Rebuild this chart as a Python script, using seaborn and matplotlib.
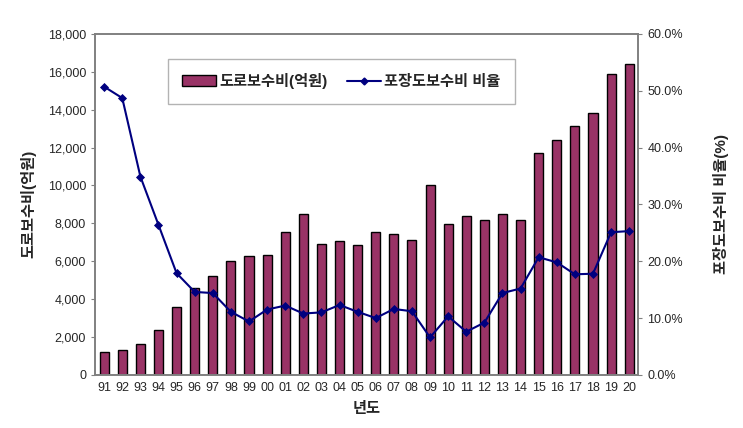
import numpy as np
import pandas as pd
import matplotlib
matplotlib.use("Agg")
import matplotlib.pyplot as plt
from matplotlib.ticker import FuncFormatter, PercentFormatter
from matplotlib.lines import Line2D
from matplotlib.patches import Patch
import seaborn as sns

years = ["91", "92", "93", "94", "95", "96", "97", "98", "99", "00",
         "01", "02", "03", "04", "05", "06", "07", "08", "09", "10",
         "11", "12", "13", "14", "15", "16", "17", "18", "19", "20"]
cost = [1200, 1300, 1650, 2350, 3600, 4600, 5200, 6000, 6300, 6350,
        7550, 8500, 6900, 7050, 6850, 7550, 7450, 7100, 10000, 7950,
        8400, 8200, 8500, 8200, 11700, 12400, 13150, 13800, 15900, 16400]
ratio = [50.7, 48.7, 34.9, 26.4, 17.9, 14.6, 14.4, 11.1, 9.4, 11.5,
         12.2, 10.8, 11.0, 12.3, 11.1, 10.0, 11.6, 11.2, 6.6, 10.3,
         7.6, 9.2, 14.4, 15.2, 20.7, 19.8, 17.7, 17.8, 25.1, 25.3]

bar_label = "도로보수비(억원)"
line_label = "포장도보수비 비율"

sns.set_style("white")
plt.rcParams['font.family'] = ['Liberation Sans', 'Noto Sans CJK KR', 'DejaVu Sans']

df = pd.DataFrame({"year": years, "cost": cost, "ratio": ratio})

fig = plt.figure(figsize=(7.43, 4.28), dpi=100)
ax = fig.add_axes([0.128, 0.124, 0.731, 0.797])

sns.barplot(data=df, x="year", y="cost", color="#993366", width=0.5,
            edgecolor="black", linewidth=1.0, saturation=1, ax=ax)
ax.set_ylim(0, 18000)
ax.set_yticks(np.arange(0, 18001, 2000))
ax.yaxis.set_major_formatter(FuncFormatter(lambda v, p: f"{int(v):,}"))
ax.set_xlim(-0.5, len(years) - 0.5)

ax2 = ax.twinx()
sns.pointplot(data=df, x="year", y="ratio", color="#000080", markers="D",
              markersize=3.5, linewidth=1.5, ax=ax2)
ax2.set_ylim(0, 60)
ax2.set_yticks(np.arange(0, 60.1, 10))
ax2.yaxis.set_major_formatter(PercentFormatter(decimals=1))
ax2.set_xlim(-0.5, len(years) - 0.5)

for a in (ax, ax2):
    for s in a.spines.values():
        s.set_color("#808080")
        s.set_linewidth(1.2)
    a.tick_params(labelsize=9, length=3, color="#808080")
ax.tick_params(axis="x", labelsize=9, pad=2)

ax.set_xlabel("년도", fontsize=11, fontweight="bold", labelpad=6)
ax.set_ylabel(bar_label, fontsize=11, fontweight="bold", labelpad=8)
ax2.set_ylabel("포장도보수비 비율(%)", fontsize=11, fontweight="bold",
               rotation=90, labelpad=22)

handles = [Patch(facecolor="#993366", edgecolor="black", label=bar_label),
           Line2D([0], [0], color="#000080", marker="D", markersize=3.5,
                  linewidth=1.5, label=line_label)]
leg = ax2.legend(handles=handles, loc="upper left", bbox_to_anchor=(0.12, 0.95),
                 ncol=2, frameon=True, fancybox=False,
                 prop={"weight": "bold", "size": 11}, handlelength=2.2,
                 handletextpad=0.2, columnspacing=1.3, borderpad=0.95)
leg.get_frame().set_edgecolor("#a0a0a0")
leg.get_frame().set_linewidth(1.0)

fig.savefig("out.png", dpi=100)
